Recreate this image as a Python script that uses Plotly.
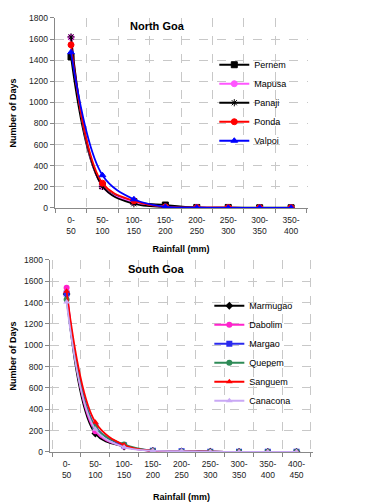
import plotly.graph_objects as go

# ---------------- data ----------------
north_cats = ["0-50", "50-100", "100-150", "150-200", "200-250", "250-300", "300-350", "350-400"]
pernem = [1430, 210, 60, 28, 5, 5, 2, 2]
mapusa = [1615, 205, 55, 10, 3, 2, 1, 1]
panaji = [1620, 205, 40, 10, 2, 1, 1, 1]
ponda = [1545, 235, 68, 10, 3, 2, 1, 1]
valpoi = [1475, 310, 82, 10, 3, 1, 1, 1]

south_cats = ["0-50", "50-100", "100-150", "150-200", "200-250", "250-300", "300-350", "350-400", "400-450"]
marmugao = [1480, 172, 50, 10, 5, 2, 1, 1, 1]
dabolim = [1540, 193, 50, 10, 5, 2, 1, 1, 1]
margao = [1485, 240, 60, 12, 6, 2, 1, 1, 1]
quepem = [1428, 232, 70, 10, 5, 2, 1, 1, 1]
sanguem = [1505, 278, 65, 10, 5, 2, 1, 1, 1]
canacona = [1405, 212, 45, 12, 8, 2, 1, 1, 1]

y_ticks = [0, 200, 400, 600, 800, 1000, 1200, 1400, 1600, 1800]

north_series = [
    ("Pernem", pernem, "#000000", "square"),
    ("Mapusa", mapusa, "#ff55ff", "circle"),
    ("Panaji", panaji, "#000000", "asterisk-open"),
    ("Ponda", ponda, "#ff0000", "circle"),
    ("Valpoi", valpoi, "#0000ff", "triangle-up"),
]
south_series = [
    ("Marmugao", marmugao, "#000000", "diamond"),
    ("Dabolim", dabolim, "#ff22cc", "circle"),
    ("Margao", margao, "#2a2aee", "square"),
    ("Quepem", quepem, "#2e8b57", "circle"),
    ("Sanguem", sanguem, "#ff0000", "triangle-up"),
    ("Canacona", canacona, "#c9a8f5", "triangle-up"),
]

FONT = "Liberation Sans, Arial, sans-serif"


def lab(c):
    return c.replace("-", "-<br>")


fig = go.Figure()

for name, vals, col, sym in north_series:
    fig.add_trace(go.Scatter(
        x=[lab(c) for c in north_cats], y=vals, name=name,
        mode="lines+markers", line=dict(color=col, width=1.8, shape="spline", smoothing=1),
        marker=dict(symbol=sym, size=6, color=col, line=dict(color=col, width=1)),
        xaxis="x", yaxis="y", legend="legend",
    ))

for name, vals, col, sym in south_series:
    fig.add_trace(go.Scatter(
        x=[lab(c) for c in south_cats], y=vals, name=name,
        mode="lines+markers", line=dict(color=col, width=1.8, shape="spline", smoothing=1),
        marker=dict(symbol=sym, size=6, color=col, line=dict(color=col, width=0)),
        xaxis="x2", yaxis="y2", legend="legend2",
    ))

# page has an 8px body margin: work in reference-page pixels and convert
OFF = 8
W, H = 367 - OFF, 502 - OFF


def px_x(a):
    return (a - OFF) / W


def px_y(a):
    return 1 - (a - OFF) / H


axis_common = dict(
    showline=True, linecolor="#888888", linewidth=1,
    ticks="outside", ticklen=4, tickcolor="#888888",
    showgrid=True, gridcolor="#c8c8c8", griddash="dash", gridwidth=1,
    tickfont=dict(family=FONT, size=8.5, color="#222222"),
    zeroline=False,
)

fig.update_layout(
    width=W, height=H,
    margin=dict(l=0, r=0, t=0, b=0),
    paper_bgcolor="white", plot_bgcolor="white",
    font=dict(family=FONT, color="#000000"),
    showlegend=True,
    xaxis=dict(**axis_common, domain=[px_x(52), px_x(307)], anchor="y", type="category",
               tickson="boundaries", ticklabelstandoff=4,
               title=dict(text="<b>Rainfall (mm)</b>", font=dict(size=9), standoff=10)),
    yaxis=dict(**axis_common, domain=[px_y(207), px_y(13)], anchor="x", range=[0, 1800],
               tickvals=y_ticks,
               title=dict(text="<b>Number of Days</b>", font=dict(size=9), standoff=10)),
    xaxis2=dict(**axis_common, domain=[px_x(47), px_x(313)], anchor="y2", type="category",
                tickson="boundaries", ticklabelstandoff=4,
                title=dict(text="<b>Rainfall (mm)</b>", font=dict(size=9), standoff=14)),
    yaxis2=dict(**axis_common, domain=[px_y(456), px_y(260)], anchor="x2", range=[0, 1800],
                tickvals=y_ticks,
                title=dict(text="<b>Number of Days</b>", font=dict(size=9), standoff=10)),
    legend=dict(x=px_x(213), y=px_y(46), xanchor="left", yanchor="top",
                font=dict(family=FONT, size=9), bgcolor="rgba(0,0,0,0)",
                itemwidth=30, tracegroupgap=0),
    legend2=dict(x=px_x(208), y=px_y(292), xanchor="left", yanchor="top",
                 font=dict(family=FONT, size=9), bgcolor="rgba(0,0,0,0)",
                 itemwidth=30, tracegroupgap=0),
    annotations=[
        dict(text="<b>North Goa</b>", x=px_x(156), y=px_y(21), xref="paper", yref="paper",
             xanchor="center", yanchor="middle",
             showarrow=False, font=dict(family=FONT, size=11)),
        dict(text="<b>South Goa</b>", x=px_x(154), y=px_y(269), xref="paper", yref="paper",
             xanchor="center", yanchor="middle",
             showarrow=False, font=dict(family=FONT, size=11)),
    ],
)

fig.write_html("out.html")
